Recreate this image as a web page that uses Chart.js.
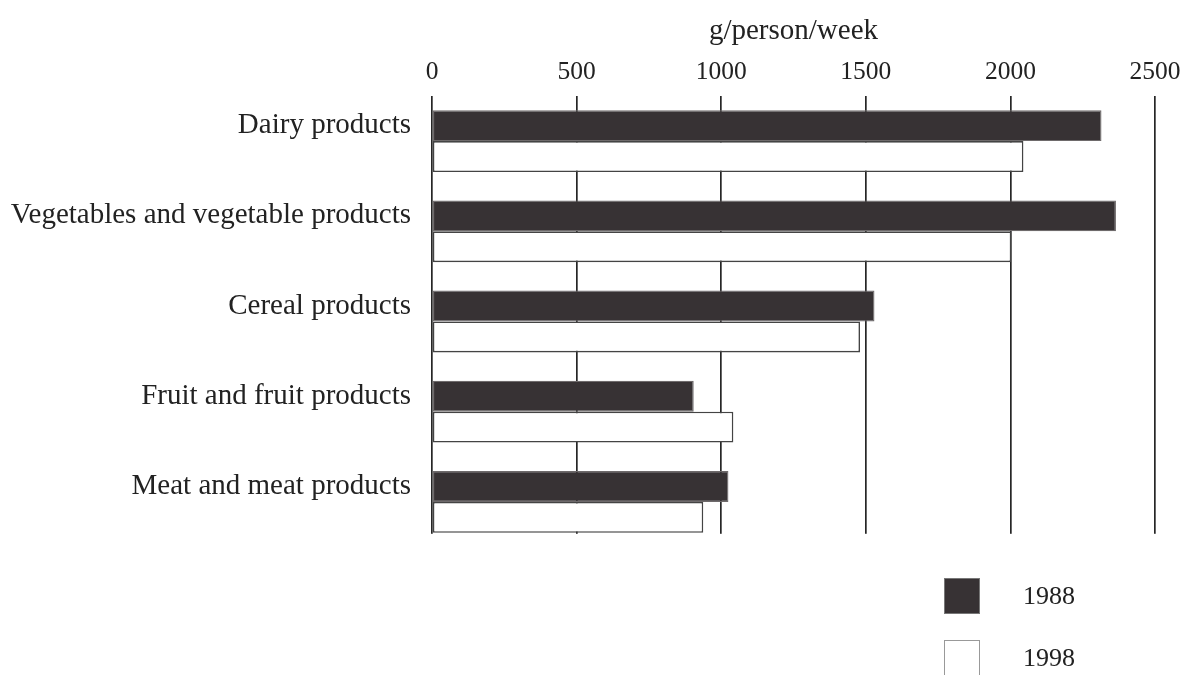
<!DOCTYPE html>
<html>
<head>
<meta charset="utf-8">
<script src="https://cdn.jsdelivr.net/npm/chart.js@4.4.1/dist/chart.umd.min.js"></script>
<style>
  html, body { margin: 0; padding: 0; background: #ffffff; }
  #wrap { position: relative; width: 1192px; height: 675px; overflow: hidden; }
  #chart { position: absolute; left: 0; top: 0; }
  #legend { position: absolute; left: 944px; top: 577px; margin: 0; padding: 0; list-style: none;
            font-family: "Liberation Serif", "DejaVu Serif", serif; font-size: 26px; color: #222; }
  #legend li { display: flex; align-items: center; height: 37px; margin-bottom: 25px; }
  #legend .box { width: 36px; height: 36px; box-sizing: border-box; margin-right: 43px; }
</style>
</head>
<body>
<div id="wrap">
  <canvas id="chart" width="1192" height="675"></canvas>
  <ul id="legend"></ul>
</div>
<script>
const categories = [
  'Dairy products',
  'Vegetables and vegetable products',
  'Cereal products',
  'Fruit and fruit products',
  'Meat and meat products'
];
const seriesLabels = ['1988', '1998'];
const values1988 = [2315, 2365, 1530, 905, 1025];
const values1998 = [2045, 2003, 1480, 1042, 938];
const xTicks = [0, 500, 1000, 1500, 2000, 2500];
const axisTitle = 'g/person/week';

const SERIF = '"Liberation Serif", "DejaVu Serif", serif';

// Hide the grid below the last pair of bars (grid stops at the last bar in the reference)
const trimGrid = {
  id: 'trimGrid',
  beforeDatasetsDraw(chart) {
    const meta = chart.getDatasetMeta(1);
    const last = meta.data[meta.data.length - 1];
    if (!last) return;
    const bottom = last.y + last.height / 2;
    const ca = chart.chartArea;
    const ctx = chart.ctx;
    ctx.save();
    ctx.fillStyle = '#ffffff';
    ctx.fillRect(ca.left - 3, bottom + 1, ca.right - ca.left + 6, ca.bottom - bottom + 2);
    ctx.restore();
  }
};

// HTML legend built from the chart's own legend items
const htmlLegend = {
  id: 'htmlLegend',
  afterUpdate(chart) {
    const ul = document.getElementById('legend');
    ul.innerHTML = '';
    const items = chart.options.plugins.legend.labels.generateLabels(chart);
    items.forEach(item => {
      const li = document.createElement('li');
      const box = document.createElement('span');
      box.className = 'box';
      box.style.background = item.fillStyle;
      box.style.border = '1.5px solid ' + (item.datasetIndex === 0 ? '#777' : '#999');
      const txt = document.createElement('span');
      txt.textContent = item.text;
      li.appendChild(box);
      li.appendChild(txt);
      ul.appendChild(li);
    });
  }
};

new Chart(document.getElementById('chart'), {
  type: 'bar',
  data: {
    labels: categories,
    datasets: [
      {
        label: seriesLabels[0],
        data: values1988,
        backgroundColor: '#373234',
        borderColor: '#6e6a6b',
        borderWidth: 1.2,
        borderSkipped: false,
        categoryPercentage: 0.685,
        barPercentage: 1.0
      },
      {
        label: seriesLabels[1],
        data: values1998,
        backgroundColor: '#ffffff',
        borderColor: '#444444',
        borderWidth: 1.6,
        borderSkipped: false,
        categoryPercentage: 0.685,
        barPercentage: 1.0
      }
    ]
  },
  options: {
    indexAxis: 'y',
    responsive: false,
    animation: false,
    devicePixelRatio: 1,
    layout: { padding: { left: 0, top: 0, right: 37, bottom: 128 } },
    plugins: {
      legend: { display: false },
      tooltip: { enabled: false }
    },
    scales: {
      x: {
        position: 'top',
        min: 0,
        max: 2500,
        afterBuildTicks(scale) {
          scale.ticks = xTicks.map(v => ({ value: v }));
        },
        afterFit(scale) { scale.height = 96; },
        grid: {
          display: true,
          drawOnChartArea: true,
          drawTicks: false,
          color: '#262626',
          lineWidth: 1.7
        },
        border: { display: false },
        ticks: {
          padding: 8,
          color: '#222',
          font: { family: SERIF, size: 25.5 },
          callback: (v) => String(v)
        },
        title: {
          display: true,
          text: axisTitle,
          color: '#222',
          font: { family: SERIF, size: 29 },
          padding: { top: 14, bottom: 0 }
        }
      },
      y: {
        type: 'category',
        offset: true,
        afterFit(scale) { scale.width = 432; },
        grid: { display: false, drawTicks: false },
        border: { display: false },
        ticks: {
          padding: 21,
          labelOffset: -15.5,
          color: '#222',
          font: { family: SERIF, size: 29 }
        }
      }
    }
  },
  plugins: [trimGrid, htmlLegend]
});
</script>
</body>
</html>
